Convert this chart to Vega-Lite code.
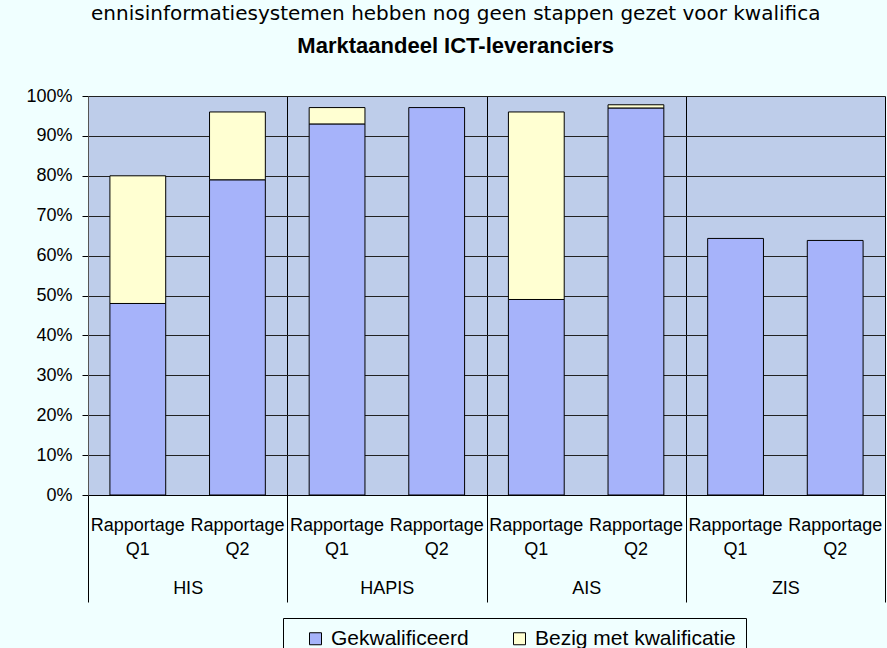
{
  "$schema": "https://vega.github.io/schema/vega-lite/v6.json",
  "width": 797,
  "height": 399,
  "autosize": {"type": "none"},
  "padding": {"left": 88, "top": 96, "right": 2, "bottom": 153},
  "background": "#F0FFFF",
  "title": {
    "text": "ennisinformatiesystemen hebben nog geen stappen gezet voor kwalifica",
    "subtitle": "Marktaandeel ICT-leveranciers",
    "font": "DejaVu Sans",
    "fontSize": 20,
    "fontWeight": "normal",
    "color": "black",
    "subtitleFont": "Liberation Sans",
    "subtitleFontSize": 22,
    "subtitleFontWeight": "bold",
    "subtitleColor": "black",
    "subtitlePadding": 13,
    "anchor": "middle",
    "frame": "bounds",
    "baseline": "alphabetic",
    "offset": 14
  },
  "data": {
    "values": [
      {"groep": "HIS", "periode": "Q1", "kolom": "HIS Q1", "reeks": "Gekwalificeerd", "waarde": 0.48},
      {"groep": "HIS", "periode": "Q1", "kolom": "HIS Q1", "reeks": "Bezig met kwalificatie", "waarde": 0.32},
      {"groep": "HIS", "periode": "Q2", "kolom": "HIS Q2", "reeks": "Gekwalificeerd", "waarde": 0.79},
      {"groep": "HIS", "periode": "Q2", "kolom": "HIS Q2", "reeks": "Bezig met kwalificatie", "waarde": 0.17},
      {"groep": "HAPIS", "periode": "Q1", "kolom": "HAPIS Q1", "reeks": "Gekwalificeerd", "waarde": 0.93},
      {"groep": "HAPIS", "periode": "Q1", "kolom": "HAPIS Q1", "reeks": "Bezig met kwalificatie", "waarde": 0.041},
      {"groep": "HAPIS", "periode": "Q2", "kolom": "HAPIS Q2", "reeks": "Gekwalificeerd", "waarde": 0.971},
      {"groep": "AIS", "periode": "Q1", "kolom": "AIS Q1", "reeks": "Gekwalificeerd", "waarde": 0.49},
      {"groep": "AIS", "periode": "Q1", "kolom": "AIS Q1", "reeks": "Bezig met kwalificatie", "waarde": 0.47},
      {"groep": "AIS", "periode": "Q2", "kolom": "AIS Q2", "reeks": "Gekwalificeerd", "waarde": 0.97},
      {"groep": "AIS", "periode": "Q2", "kolom": "AIS Q2", "reeks": "Bezig met kwalificatie", "waarde": 0.008},
      {"groep": "ZIS", "periode": "Q1", "kolom": "ZIS Q1", "reeks": "Gekwalificeerd", "waarde": 0.643},
      {"groep": "ZIS", "periode": "Q2", "kolom": "ZIS Q2", "reeks": "Gekwalificeerd", "waarde": 0.638}
    ]
  },
  "layer": [
    {
      "mark": {"type": "rule", "opacity": 0},
      "encoding": {
        "x": {
          "field": "groep",
          "type": "nominal",
          "sort": null,
          "scale": {"paddingInner": 0, "paddingOuter": 0},
          "axis": {
            "orient": "bottom",
            "title": null,
            "domain": false,
            "tickBand": "extent",
            "ticks": true,
            "tickSize": 107,
            "tickColor": "black",
            "tickWidth": 1,
            "grid": true,
            "gridColor": "black",
            "gridWidth": 1,
            "labelFont": "Liberation Sans",
            "labelFontSize": 18,
            "labelColor": "black",
            "labelAngle": 0,
            "labelBaseline": "alphabetic",
            "labelPadding": -9
          }
        }
      }
    },
    {
      "mark": {"type": "bar", "stroke": "black", "strokeWidth": 1},
      "encoding": {
        "x": {
          "field": "kolom",
          "type": "nominal",
          "sort": null,
          "scale": {"paddingInner": 0.44, "paddingOuter": 0.22},
          "axis": {
            "orient": "bottom",
            "title": null,
            "ticks": false,
            "tickSize": 0,
            "domain": true,
            "domainColor": "black",
            "labelExpr": "['Rapportage', slice(datum.label, -2)]",
            "labelFont": "Liberation Sans",
            "labelFontSize": 18,
            "labelColor": "black",
            "labelAngle": 0,
            "labelLineHeight": 24,
            "labelPadding": 21,
            "labelOverlap": false,
            "labelBound": false
          }
        },
        "y": {
          "field": "waarde",
          "type": "quantitative",
          "stack": "zero",
          "scale": {"domain": [0, 1], "nice": false},
          "axis": {
            "title": null,
            "format": ".0%",
            "values": [0, 0.1, 0.2, 0.3, 0.4, 0.5, 0.6, 0.7, 0.8, 0.9, 1],
            "grid": true,
            "gridColor": "#222222",
            "gridWidth": 1,
            "domainColor": "#555555",
            "tickColor": "black",
            "tickSize": 6,
            "labelPadding": 10,
            "labelFont": "Liberation Sans",
            "labelFontSize": 18,
            "labelColor": "black"
          }
        },
        "color": {
          "field": "reeks",
          "type": "nominal",
          "scale": {
            "domain": ["Gekwalificeerd", "Bezig met kwalificatie"],
            "range": ["#A6B3FA", "#FFFFD2"]
          },
          "legend": {
            "orient": "none",
            "legendX": 195,
            "legendY": 522,
            "direction": "horizontal",
            "title": null,
            "strokeColor": "black",
            "fillColor": "#F0FFFF",
            "padding": 10,
            "symbolType": "square",
            "symbolSize": 144,
            "symbolStrokeColor": "black",
            "symbolStrokeWidth": 1,
            "symbolOpacity": 1,
            "symbolOffset": 12,
            "labelOffset": 5,
            "columnPadding": 28,
            "labelLimit": 0,
            "labelFont": "Liberation Sans",
            "labelFontSize": 21,
            "labelColor": "black"
          }
        },
        "order": {"field": "reeks", "sort": "descending"}
      }
    }
  ],
  "resolve": {"scale": {"x": "independent"}, "axis": {"x": "independent"}},
  "config": {
    "view": {"fill": "#BECDEA", "stroke": null},
    "font": "Liberation Sans"
  }
}
